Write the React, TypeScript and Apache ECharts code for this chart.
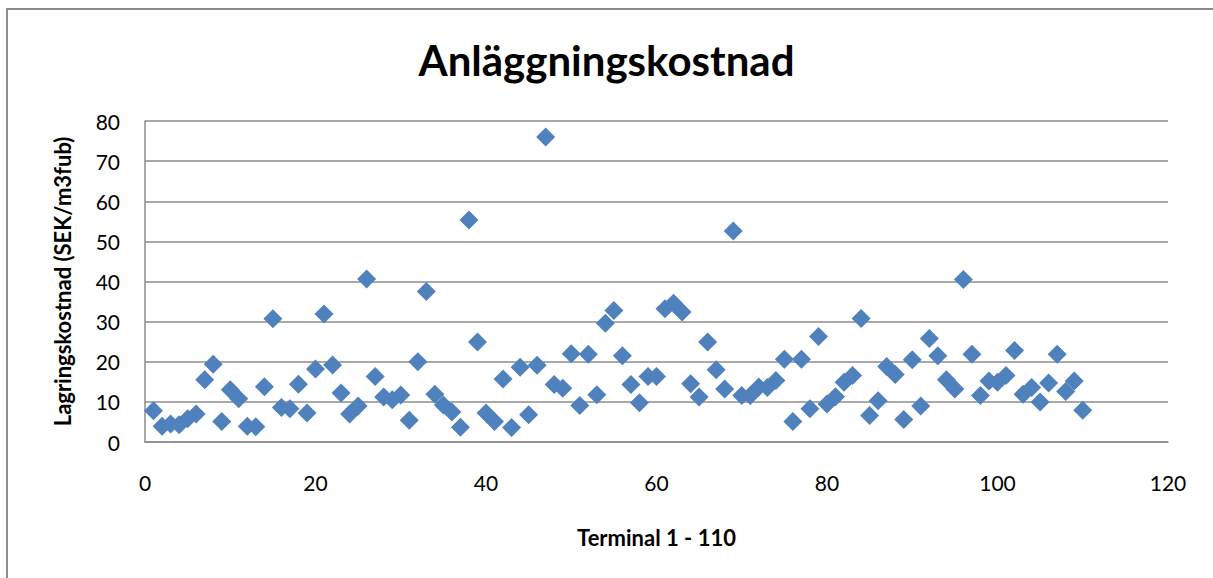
import React, { useEffect, useRef } from "react";
import * as echarts from "echarts";

const terminals: number[] = Array.from({ length: 110 }, (_, i) => i + 1);
const costs: number[] = [
  7.8, 3.9, 4.5, 4.3, 5.8, 7.0, 15.5, 19.4, 5.1, 13.0,
  10.8, 3.9, 3.8, 13.8, 30.7, 8.6, 8.3, 14.4, 7.2, 18.2,
  31.9, 19.2, 12.2, 7.0, 9.0, 40.6, 16.3, 11.2, 10.5, 11.7,
  5.4, 20.0, 37.5, 11.9, 9.2, 7.5, 3.7, 55.3, 24.9, 7.2,
  5.1, 15.7, 3.6, 18.6, 6.8, 19.1, 76.0, 14.3, 13.4, 22.0,
  9.1, 21.9, 11.8, 29.6, 32.8, 21.5, 14.3, 9.8, 16.3, 16.3,
  33.2, 34.6, 32.4, 14.5, 11.2, 24.9, 18.0, 13.2, 52.6, 11.6,
  11.6, 13.7, 13.6, 15.3, 20.6, 5.1, 20.6, 8.3, 26.3, 9.5,
  11.3, 14.9, 16.6, 30.8, 6.6, 10.3, 18.8, 16.8, 5.6, 20.5,
  9.0, 25.8, 21.5, 15.5, 13.2, 40.5, 21.9, 11.6, 15.2, 14.9,
  16.6, 22.8, 11.9, 13.6, 10.0, 14.7, 21.9, 12.6, 15.2, 7.9,
];
const xTicks = { min: 0, max: 120, interval: 20 };
const yTicks = { min: 0, max: 80, interval: 10 };

const title = "Anläggningskostnad";
const xName = "Terminal 1 - 110";
const yName = "Lagringskostnad (SEK/m3fub)";

export default function App() {
  const ref = useRef<HTMLDivElement>(null);
  useEffect(() => {
    if (!ref.current) return;
    const chart = echarts.init(ref.current, undefined, { renderer: "svg" });
    const font = "Lato, 'Open Sans', sans-serif";
    chart.setOption({
      animation: false,
      backgroundColor: "#ffffff",
      textStyle: { fontFamily: font },
      title: {
        text: title,
        left: "center",
        top: 34,
        textStyle: { fontSize: 42, fontWeight: "bold", color: "#000", fontFamily: font },
      },
      graphic: [
        {
          type: "rect",
          shape: { x: 7, y: 9, width: 1230, height: 600 },
          style: { fill: "none", stroke: "#8c8c8c", lineWidth: 2 },
          silent: true,
        },
      ],
      grid: { left: 145, right: 45, top: 121, bottom: 136, containLabel: false },
      xAxis: {
        type: "value",
        min: xTicks.min,
        max: xTicks.max,
        interval: xTicks.interval,
        name: xName,
        nameLocation: "middle",
        nameGap: 84,
        nameTextStyle: { fontSize: 22, fontWeight: "bold", color: "#000", fontFamily: font },
        axisLine: { show: true, lineStyle: { color: "#8c8c8c", width: 1.5 } },
        axisTick: { show: false },
        splitLine: { show: false },
        axisLabel: { fontSize: 21, color: "#000", margin: 30, fontFamily: font },
      },
      yAxis: {
        type: "value",
        min: yTicks.min,
        max: yTicks.max,
        interval: yTicks.interval,
        name: yName,
        nameLocation: "middle",
        nameGap: 72,
        nameRotate: 90,
        nameTextStyle: { fontSize: 22, fontWeight: "bold", color: "#000", fontFamily: font },
        axisLine: { show: true, lineStyle: { color: "#8c8c8c", width: 1.5 } },
        axisTick: { show: false },
        splitLine: { show: true, lineStyle: { color: "#8c8c8c", width: 1.5 } },
        axisLabel: { fontSize: 21, color: "#000", margin: 25, fontFamily: font },
      },
      series: [
        {
          type: "scatter",
          symbol: "diamond",
          symbolSize: 19,
          itemStyle: { color: "#4f81bd", opacity: 1 },
          data: terminals.map((t, i) => [t, costs[i]]),
        },
      ],
    });
    return () => chart.dispose();
  }, []);
  return (
    <div
      ref={ref}
      style={{ position: "fixed", left: 0, top: 0, width: 1213, height: 578 }}
    />
  );
}
